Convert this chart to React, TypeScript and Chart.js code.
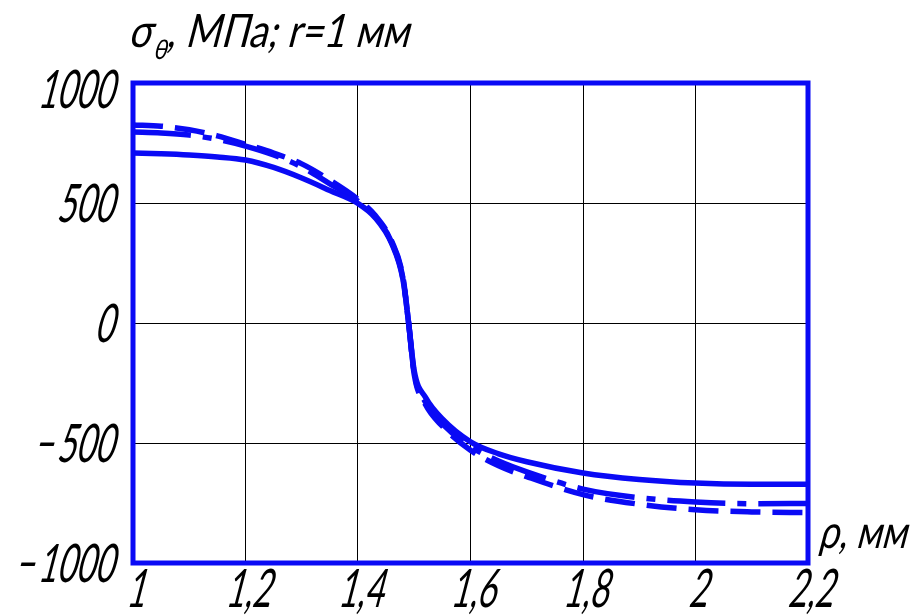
import React, { useEffect, useRef } from "react";
import { Chart, registerables } from "chart.js";

Chart.register(...registerables);

// Radius ρ, mm
const rho = [1, 1.05, 1.1, 1.15, 1.2, 1.25, 1.3, 1.35, 1.4, 1.43, 1.46, 1.48, 1.49, 1.5, 1.52, 1.55, 1.6, 1.65, 1.7, 1.8, 1.9, 2.0, 2.1, 2.2];
// σθ, MPa — solid curve
const sigmaSolid = [708, 705, 700, 692, 679, 648, 604, 552, 498, 440, 330, 180, 0, -200, -310, -400, -495, -545, -578, -625, -652, -667, -672, -672];
// σθ, MPa — dash-dot curve
const sigmaDashDot = [796, 792, 783, 765, 737, 700, 650, 580, 508, 445, 335, 185, 0, -210, -330, -420, -515, -575, -620, -692, -728, -746, -753, -752];
// σθ, MPa — dashed curve
const sigmaDashed = [825, 820, 805, 780, 745, 708, 663, 595, 515, 450, 340, 190, 0, -215, -340, -430, -530, -595, -640, -715, -755, -778, -787, -790];

const xTicks = [1, 1.2, 1.4, 1.6, 1.8, 2, 2.2];
const yTicks = [-1000, -500, 0, 500, 1000];

const titleMain = "σ";
const titleSub = "θ";
const titleRest = ", МПа; r=1 мм";
const xAxisLabel = "ρ, мм";

const BLUE = "#0a0af5";
const FONT = 'Lato, "DejaVu Sans", sans-serif';
const SKEW = 0.26;

const toPts = (ys: number[]) => rho.map((x, i) => ({ x, y: ys[i] }));
const fmtX = (v: number) => String(Number(v.toFixed(1))).replace(".", ",");
const fmtY = (v: number) => (v < 0 ? "\u2212\u2009" + Math.abs(v) : String(v));

function slanted(ctx: CanvasRenderingContext2D, text: string, x: number, y: number, size: number, sx: number, align: CanvasTextAlign) {
  ctx.save();
  ctx.translate(x, y);
  ctx.transform(sx, 0, -SKEW, 1, 0, 0);
  ctx.font = `normal ${size}px ${FONT}`;
  ctx.textAlign = align;
  ctx.textBaseline = "alphabetic";
  ctx.fillText(text, 0, 0);
  ctx.restore();
}

export default function App() {
  const ref = useRef<HTMLCanvasElement | null>(null);

  useEffect(() => {
    document.body.style.margin = "0";
    const canvas = ref.current;
    if (!canvas) return;

    const decor = {
      id: "decor",
      afterDraw(chart: any) {
        const { ctx, chartArea, scales } = chart;
        ctx.save();
        ctx.strokeStyle = BLUE;
        ctx.lineWidth = 5;
        ctx.strokeRect(chartArea.left, chartArea.top, chartArea.right - chartArea.left, chartArea.bottom - chartArea.top);
        ctx.fillStyle = "#000";

        // tick labels (positions from the library's scales)
        const tSize = 53;
        ctx.font = `normal ${tSize}px ${FONT}`;
        const tsx = 76 / ctx.measureText("1000").width;
        const digitH = tSize * 0.72;
        for (const t of scales.y.ticks) {
          const py = scales.y.getPixelForValue(t.value);
          const shift = t.value === 1000 ? 6 : 0;
          slanted(ctx, fmtY(t.value), chartArea.left - 20, py + digitH / 2 + shift, tSize, tsx, "right");
        }
        for (const t of scales.x.ticks) {
          const px = scales.x.getPixelForValue(t.value);
          slanted(ctx, fmtX(t.value), px + 2, chartArea.bottom + 6 + digitH, tSize, tsx, "center");
        }

        // title
        const base = 47;
        const big = 46;
        const sub = 27;
        ctx.font = `normal ${big}px ${FONT}`;
        const wMain = ctx.measureText(titleMain).width;
        const wRest = ctx.measureText(titleRest).width;
        ctx.font = `normal ${sub}px ${FONT}`;
        const wSub = ctx.measureText(titleSub).width;
        const tsx2 = 280 / (wMain + wSub + wRest + 2);
        let x = 128;
        slanted(ctx, titleMain, x, base, big, tsx2, "left");
        x += wMain * tsx2 + 2;
        slanted(ctx, titleSub, x, base + 12, sub, tsx2, "left");
        x += wSub * tsx2;
        slanted(ctx, titleRest, x, base, big, tsx2, "left");

        // x-axis label
        ctx.font = `normal ${big}px ${FONT}`;
        const wl = ctx.measureText(xAxisLabel).width;
        slanted(ctx, xAxisLabel, chartArea.right + 10, 548, big, 88 / wl, "left");
        ctx.restore();
      },
    };

    const chart = new Chart(canvas, {
      type: "line",
      data: {
        datasets: [
          {
            data: toPts(sigmaSolid),
            borderColor: BLUE,
            borderWidth: 5.5,
            pointRadius: 0,
            cubicInterpolationMode: "monotone",
            fill: false,
          },
          {
            data: toPts(sigmaDashDot),
            borderColor: BLUE,
            borderWidth: 5.5,
            borderDash: [58, 12, 9, 12],
            pointRadius: 0,
            cubicInterpolationMode: "monotone",
            fill: false,
          },
          {
            data: toPts(sigmaDashed),
            borderColor: BLUE,
            borderWidth: 5.5,
            borderDash: [30, 12],
            pointRadius: 0,
            cubicInterpolationMode: "monotone",
            fill: false,
          },
        ],
      },
      options: {
        responsive: false,
        animation: false,
        events: [],
        layout: { padding: { left: 0, top: 83, right: 107, bottom: 0 } },
        plugins: { legend: { display: false }, tooltip: { enabled: false }, title: { display: false } },
        scales: {
          x: {
            type: "linear",
            min: 1,
            max: 2.2,
            afterBuildTicks: (s: any) => {
              s.ticks = xTicks.map((v) => ({ value: v }));
            },
            afterFit: (s: any) => {
              s.height = 52;
            },
            grid: { color: "#000", lineWidth: 1, drawTicks: false },
            border: { display: false },
            ticks: { display: false },
          },
          y: {
            type: "linear",
            min: -1000,
            max: 1000,
            afterBuildTicks: (s: any) => {
              s.ticks = yTicks.map((v) => ({ value: v }));
            },
            afterFit: (s: any) => {
              s.width = 133;
            },
            grid: { color: "#000", lineWidth: 1, drawTicks: false },
            border: { display: false },
            ticks: { display: false },
          },
        },
      },
      plugins: [decor],
    } as any);

    return () => chart.destroy();
  }, []);

  return (
    <div style={{ position: "absolute", left: 0, top: 0, width: 915, height: 615, background: "#fff" }}>
      <canvas ref={ref} width={915} height={615} />
    </div>
  );
}
